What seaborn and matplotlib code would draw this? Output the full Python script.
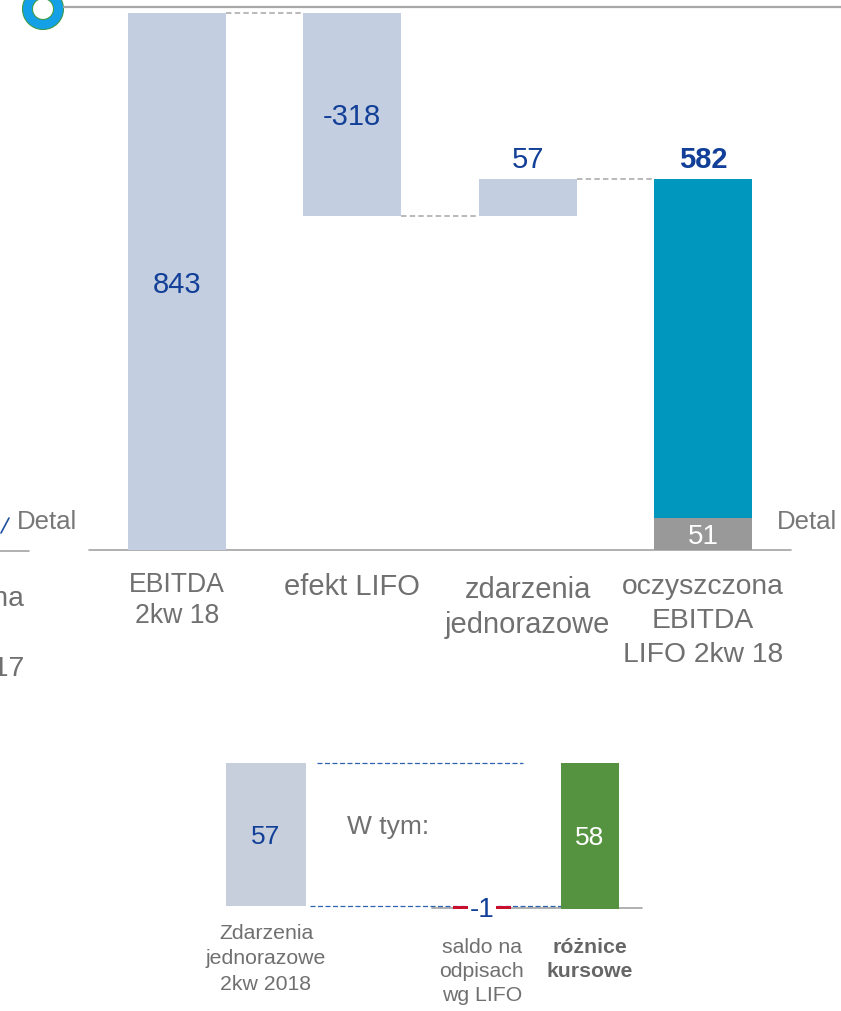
import numpy as np
import matplotlib
matplotlib.use("Agg")
import matplotlib.pyplot as plt
from matplotlib.patches import Wedge
import seaborn as sns

# --- dane: glowny mostek EBITDA ---
kategorie = ["EBITDA\n2kw 18", "efekt LIFO", "zdarzenia\njednorazowe", "oczyszczona\nEBITDA\nLIFO 2kw 18"]
zmiany = [843, -318, 57]
wynik = 582
detal = 51
etykiety = ["843", "-318", "57", "582"]

# --- dane: rozbicie zdarzen jednorazowych ---
kat_dol = ["Zdarzenia\njednorazowe\n2kw 2018", "saldo na\nodpisach\nwg LIFO", "różnice\nkursowe"]
wart_dol = [57, -1, 58]
etykiety_dol = ["57", "-1", "58"]

JASNY = "#c3cee0"
MORSKI = "#0097be"
SZARY = "#999999"
ZIELONY = "#4ea133"
CZERWONY = "#c8102e"
GRANAT = "#123f97"
TEKST = "#707070"
LINIA = "#a3a3a3"

sns.set_theme(style="white")
plt.rcParams["font.family"] = ["Liberation Sans", "DejaVu Sans"]

fig = plt.figure(figsize=(8.41, 10.11), dpi=100)
fig.patch.set_facecolor("white")

# mostek glowny
ax = fig.add_axes([0, 0, 1, 1])
narast = np.cumsum(zmiany)
wysokosci = zmiany + [wynik]
podstawy = [0, narast[0], narast[1], 0]
szer = 0.56
sns.barplot(x=kategorie, y=wysokosci, bottom=podstawy, order=kategorie, width=szer,
            color=JASNY, errorbar=None, linewidth=0, ax=ax, zorder=2)
for p, c in zip(ax.patches, [JASNY, JASNY, JASNY, MORSKI]):
    p.set_facecolor(c)
sns.barplot(x=[kategorie[3]], y=[detal], order=kategorie, width=szer,
            color=SZARY, errorbar=None, linewidth=0, ax=ax, zorder=3)
ax.set_xlim(-177 / 175.33, 664 / 175.33)
ax.set_ylim(-461 / 0.637, 550 / 0.637)
ax.axis("off")

ax.plot([-0.5, 3.5], [0, 0], color=LINIA, lw=1.2, zorder=1)
for i in range(3):
    ax.plot([i + szer / 2, i + 1 - szer / 2], [narast[i], narast[i]], color="#b3b3b3",
            lw=1.3, dashes=(3, 1.8), zorder=1)

ax.text(0, zmiany[0] / 2, etykiety[0], ha="center", va="center_baseline", fontsize=21, color=GRANAT, zorder=5)
ax.text(1, narast[0] + zmiany[1] / 2, etykiety[1], ha="center", va="center_baseline", fontsize=21,
        color=GRANAT, zorder=5)
ax.annotate(etykiety[2], (2, narast[2]), xytext=(0, 8), textcoords="offset points",
            ha="center", va="baseline", fontsize=21, color=GRANAT)
ax.annotate(etykiety[3], (3, wynik), xytext=(0, 8), textcoords="offset points",
            ha="center", va="baseline", fontsize=21, color=GRANAT, fontweight="bold")
ax.text(3, detal / 2, str(detal), ha="center", va="center_baseline", fontsize=20, color="white", zorder=5)

przes = [-15.5, -16.5, -18.5, -17.5]
rozm = [19.2, 21, 21, 20.3]
odst = [1.28, 1.3, 1.34, 1.4]
for i, k in enumerate(kategorie):
    ax.annotate(k, (i, 0), xytext=(0, przes[i]), textcoords="offset points", ha="center",
                va="top", fontsize=rozm[i], color=TEKST, linespacing=odst[i])

# rozbicie zdarzen jednorazowych
ax2 = fig.add_axes([0, 0, 1, 1])
kolejnosc = [kat_dol[0], "", kat_dol[1], kat_dol[2]]
sns.barplot(x=[kat_dol[0]], y=[wart_dol[0]], order=kolejnosc, width=0.74,
            color=JASNY, errorbar=None, linewidth=0, ax=ax2, zorder=2)
sns.barplot(x=kat_dol[1:], y=wart_dol[1:], bottom=[0, wart_dol[1]], order=kolejnosc, width=0.54,
            color=ZIELONY, errorbar=None, linewidth=0, ax=ax2, zorder=2)
ax2.patches[1].set_facecolor(CZERWONY)
ax2.patches[1].set_zorder(3)
ax2.set_xlim(-266 / 108, 575 / 108)
ax2.set_ylim(-105 / 2.509, 906 / 2.509)
ax2.axis("off")

ax2.plot([1.54, 3.48], [-0.8, -0.8], color=LINIA, lw=1.2, zorder=1)
ax2.plot([0.47, 2.38], [wart_dol[0], wart_dol[0]], color="#2f62b0", lw=0.9, dashes=(4, 2), zorder=1)
ax2.plot([0.41, 3 - 0.54 / 2], [0, 0], color="#2f62b0", lw=0.9, dashes=(4, 2), zorder=1)

ax2.text(0, wart_dol[0] / 2, etykiety_dol[0], ha="center", va="center_baseline", fontsize=19,
         color=GRANAT, zorder=5)
ax2.text(2, wart_dol[1] / 2, etykiety_dol[1], ha="center", va="center_baseline", fontsize=20,
         color=GRANAT, zorder=5, bbox=dict(facecolor="white", edgecolor="none", pad=1.5))
ax2.text(3, wart_dol[1] + wart_dol[2] / 2, etykiety_dol[2], ha="center", va="center_baseline",
         fontsize=19, color="white", zorder=5)
ax2.text(1.13, 31.5, "W tym:", ha="center", va="center", fontsize=19, color=TEKST)

ax2.annotate(kat_dol[0], (0, 0), xytext=(0, -13), textcoords="offset points", ha="center", va="top",
             fontsize=15.3, color=TEKST, linespacing=1.42)
ax2.annotate(kat_dol[1], (2, 0), xytext=(0, -23), textcoords="offset points", ha="center", va="top",
             fontsize=15.3, color=TEKST, linespacing=1.34)
ax2.annotate(kat_dol[2], (3, 0), xytext=(0, -23), textcoords="offset points", ha="center", va="top",
             fontsize=15.3, color="#666666", fontweight="bold", linespacing=1.34)

# ozdobniki slajdu (fragmenty sasiednich elementow)
deko = fig.add_axes([0, 0, 1, 1])
deko.set_xlim(0, 841)
deko.set_ylim(1011, 0)
deko.axis("off")
deko.plot([63, 841], [7, 7], color="#a8a8a8", lw=1.6, solid_capstyle="butt")
deko.add_patch(Wedge((43, 9), 20.5, 0, 360, width=10, facecolor="#14a0e6", edgecolor="#3a9c4c", lw=0.8))
deko.plot([0, 29], [551, 551], color=LINIA, lw=1.2)
deko.plot([1, 9], [533, 518], color="#1f4fa0", lw=1.2)
deko.text(17, 522, "Detal", ha="left", va="center", fontsize=18.5, color="#777777")
deko.text(777, 522, "Detal", ha="left", va="center", fontsize=18.5, color="#777777")
deko.text(-56, 586, "oczyszczona\nEBITDA\nLIFO 2kw 17", ha="center", va="top", fontsize=20.3,
          color=TEKST, linespacing=1.45)

fig.savefig("out.png", dpi=100, facecolor="white")
